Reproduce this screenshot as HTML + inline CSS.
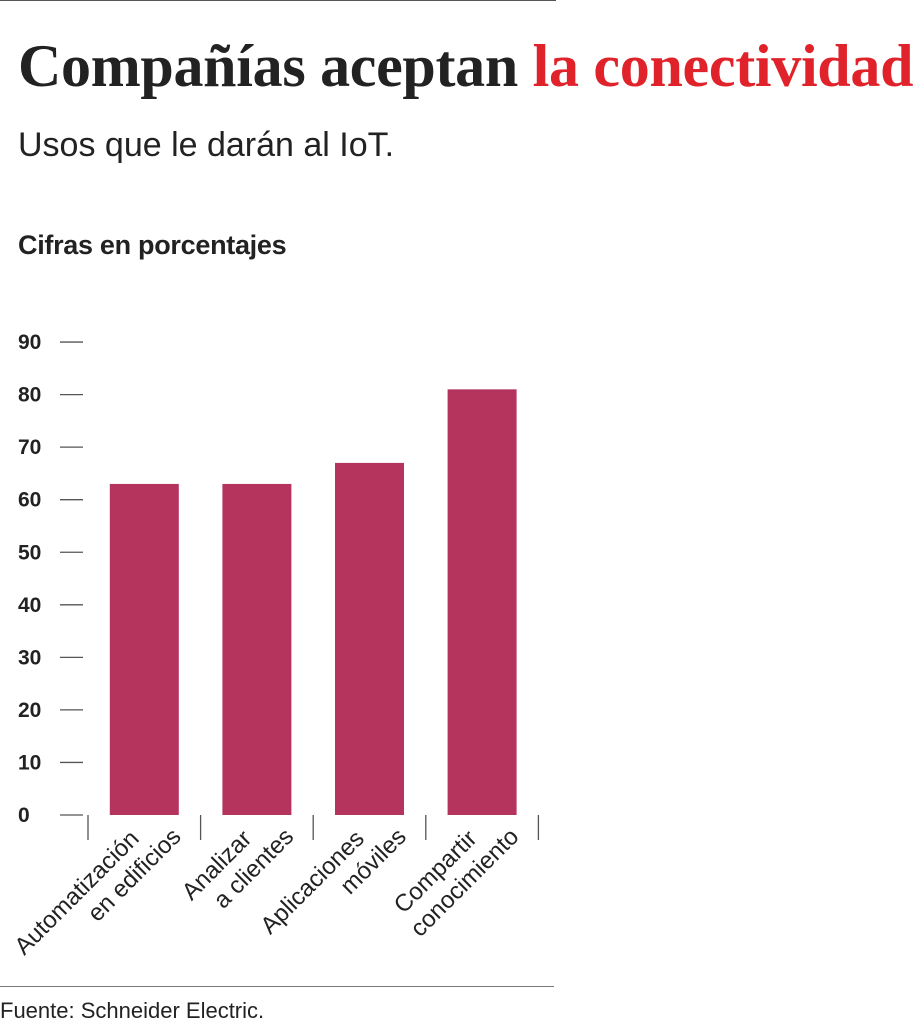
<!DOCTYPE html>
<html><head><meta charset="utf-8"><style>
body{margin:0;background:#fff;width:916px;height:1024px;overflow:hidden;position:relative;font-family:"Liberation Sans",sans-serif;}
.t{position:absolute;white-space:nowrap}
</style></head><body>
<div style="position:absolute;left:0;top:0;width:556px;height:1px;background:#555"></div>
<div class="t" style="left:18px;top:32px;font-family:'Liberation Serif',serif;font-weight:bold;font-size:60px;letter-spacing:-0.3px;color:#222">Compañías aceptan <span style="color:#e0222b">la conectividad</span></div>
<div class="t" style="left:18px;top:126px;font-size:34px;color:#222">Usos que le darán al IoT.</div>
<div class="t" style="left:18px;top:230px;font-size:27px;font-weight:bold;color:#222;letter-spacing:-0.3px">Cifras en porcentajes</div>
<svg id="chart" width="916" height="1024" style="position:absolute;left:0;top:0"></svg>
<div style="position:absolute;left:0;top:986px;width:554px;height:1px;background:#777"></div>
<div class="t" style="left:0;top:998px;font-size:22px;color:#222">Fuente: Schneider Electric.</div>
<script>
const categories1 = ["Automatización","Analizar","Aplicaciones","Compartir"];
const categories2 = ["en edificios","a clientes","móviles","conocimiento"];
const values = [63, 63, 67, 81];
const yTicks = [0,10,20,30,40,50,60,70,80,90];
const NS="http://www.w3.org/2000/svg";
const svg=document.getElementById('chart');
const y0=815, pxPerUnit=52.55/10;
function yScale(v){return y0-v*pxPerUnit;}
const x0=88, step=112.6, barW=69;
function xCenter(i){return x0+step*(i+0.5);}
function mk(tag,attrs){const e=document.createElementNS(NS,tag);for(const k in attrs)e.setAttribute(k,attrs[k]);svg.appendChild(e);return e;}
yTicks.forEach(t=>{
  const y=yScale(t);
  const tx=mk('text',{x:18,y:y+7,'font-size':21,'font-weight':'bold','font-family':'Liberation Sans, sans-serif',fill:'#222'});
  tx.textContent=t;
  
  
  const l=mk('line',{x1:60,x2:83,y1:y,y2:y,stroke:'#555','stroke-width':1.3});
  
  
});
for(let i=0;i<=categories1.length;i++){
  const x=x0+step*i;
  const l=mk('line',{x1:x,x2:x,y1:y0,y2:y0+25,stroke:'#555','stroke-width':1.3});
  
  
}
values.forEach((v,i)=>{
  const cx=xCenter(i);
  const r=mk('rect',{x:cx-barW/2,y:yScale(v),width:barW,height:y0-yScale(v),fill:'#b5345e'});
  
  
  [[categories1[i],cx-4,840],[categories2[i],cx+38,838]].forEach(([s,x,y])=>{
    const t=mk('text',{x:x,y:y,'text-anchor':'end','font-size':24,'font-family':'Liberation Sans, sans-serif',fill:'#222',transform:`rotate(-45 ${x} ${y})`});
    t.textContent=s;
    
    
  });
});
</script>
</body></html>
